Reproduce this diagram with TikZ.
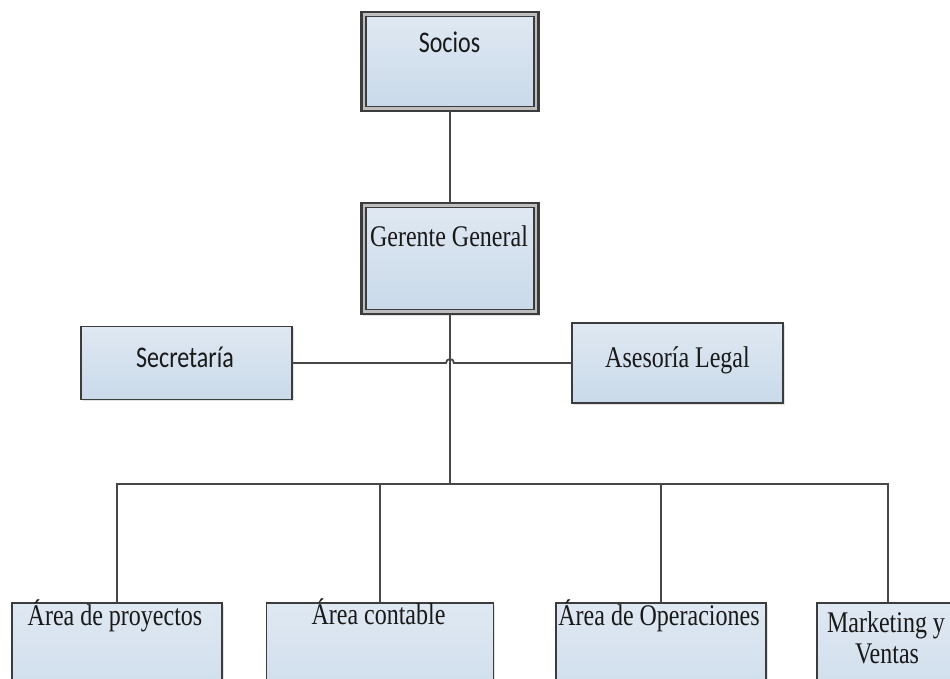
\documentclass[tikz,border=0pt]{standalone}
\usepackage{fontspec}
\setmainfont{Liberation Serif}[FakeStretch=0.8]
\newfontfamily\lblsans{Carlito}[FakeStretch=0.8]
\usetikzlibrary{shadows}
\definecolor{boxtop}{HTML}{DFE8F2}
\definecolor{boxbot}{HTML}{C9DAEA}
\definecolor{edge}{HTML}{3C3C3C}
\definecolor{ring}{HTML}{BEBEBE}
\definecolor{wire}{HTML}{474747}

\begin{document}
\begin{tikzpicture}[x=1pt,y=-1pt,
  every node/.style={inner sep=0pt, outer sep=0pt},
  shadowed/.style={drop shadow={shadow xshift=1.5pt, shadow yshift=-1.5pt, opacity=0.22}},
  orgbox/.style={shadowed, draw=edge, line width=1.6pt, top color=boxtop, bottom color=boxbot},
  ringbox/.style={shadowed, draw=edge, line width=2.6pt, fill=ring},
  innerbox/.style={draw=edge, line width=1.4pt, top color=boxtop, bottom color=boxbot},
  lbl/.style={anchor=base, text=black!90, font=\fontsize{30}{32}\selectfont},
  lblsf/.style={anchor=base, text=black!90, font=\lblsans\fontsize{30}{32}\selectfont},
  conn/.style={draw=wire, line width=1.8pt}]

\useasboundingbox (0,0) rectangle (950,679);
\clip (0,0) rectangle (950,679);
\fill[white] (0,0) rectangle (950,679);

% top level: partners and general manager (double-framed boxes)
\node[ringbox, minimum width=177pt, minimum height=99pt] (socios) at (450,61.5) {};
\node[innerbox, minimum width=168pt, minimum height=90pt] (socios-in) at (450,61.5) {};
\node[lblsf] (socios-t) at (449.5,53) {Socios};

\node[ringbox, minimum width=177pt, minimum height=111pt] (gerente) at (450,258.5) {};
\node[innerbox, minimum width=168pt, minimum height=102pt] (gerente-in) at (450,258.5) {};
\node[lbl] (gerente-t) at (449,247) {Gerente General};

% staff positions
\node[orgbox, minimum width=211pt, minimum height=73pt] (secretaria) at (186.5,363) {};
\node[lblsf] (secretaria-t) at (185,367) {Secretaría};

\node[orgbox, minimum width=211pt, minimum height=80pt] (asesoria) at (677.5,363) {};
\node[lbl] (asesoria-t) at (677.5,367) {Asesoría Legal};

% departments
\node[orgbox, minimum width=210pt, minimum height=130pt] (area1) at (117,668) {};
\node[lbl] (area1-t) at (115,625) {Área de proyectos};

\node[orgbox, minimum width=227pt, minimum height=130pt] (area2) at (380,668) {};
\node[lbl] (area2-t) at (378.5,624) {Área contable};

\node[orgbox, minimum width=210pt, minimum height=130pt] (area3) at (661,668) {};
\node[lbl] (area3-t) at (659,625) {Área de Operaciones};

\node[orgbox, minimum width=142pt, minimum height=130pt] (area4) at (888,668) {};
\node[lbl] (area4-t1) at (886,632) {Marketing y};
\node[lbl] (area4-t2) at (887,663) {Ventas};

% connectors
\coordinate (hop) at (450,363);
\coordinate (bus) at (450,484);

\draw[conn] (socios.south) -- (gerente.north);
\draw[conn] (gerente.south) -- (bus);
\draw[conn] (secretaria.east) -- ([xshift=-4pt]hop)
  arc[start angle=180, end angle=0, radius=4pt] -- (asesoria.west);
\draw[conn] (area1.north) -- (area1.north |- bus) -- (area4.north |- bus) -- (area4.north);
\draw[conn] (area2.north) -- (area2.north |- bus);
\draw[conn] (area3.north) -- (area3.north |- bus);

\end{tikzpicture}
\end{document}
